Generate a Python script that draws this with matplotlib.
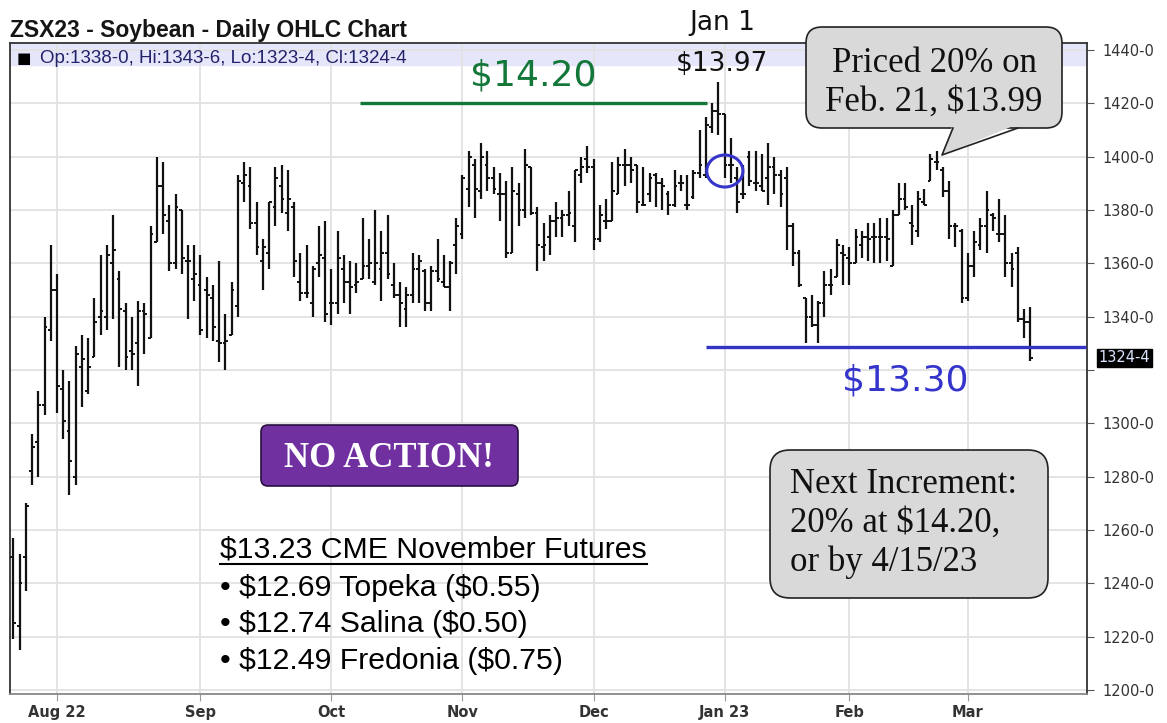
import numpy as np
import matplotlib.pyplot as plt
from matplotlib.patches import FancyBboxPatch, Polygon, Ellipse
from matplotlib import font_manager
import matplotlib.transforms as mtransforms

plt.rcParams['text.parse_math'] = False

# daily OHLC, ZSX23 soybeans (cents/bu)
opens = [1250, 1224, 1250, 1282, 1293, 1307, 1335, 1350, 1313, 1297,
         1280, 1321, 1312, 1325, 1340, 1340, 1360, 1354, 1342, 1327,
         1330, 1342, 1332, 1368, 1389, 1376, 1360, 1380, 1361, 1354,
         1352, 1350, 1347, 1331, 1330, 1333, 1344, 1390, 1389, 1375,
         1361, 1364, 1381, 1389, 1379, 1381, 1353, 1349, 1345, 1360,
         1362, 1345, 1345, 1358, 1353, 1352, 1354, 1359, 1353, 1358,
         1364, 1352, 1348, 1343, 1348, 1358, 1357, 1345, 1357, 1353,
         1351, 1367, 1371, 1388, 1397, 1387, 1397, 1392, 1386, 1386,
         1364, 1386, 1380, 1396, 1379, 1366, 1370, 1376, 1377, 1378,
         1374, 1393, 1399, 1396, 1369, 1376, 1376, 1386, 1397, 1397,
         1397, 1382, 1386, 1393, 1390, 1386, 1382, 1390, 1382, 1385,
         1394, 1393, 1411, 1417, 1416, 1397, 1392, 1386, 1400, 1390,
         1389, 1392, 1396, 1393, 1392, 1374, 1364, 1347, 1340, 1337,
         1345, 1352, 1355, 1364, 1362, 1360, 1367, 1370, 1370, 1370,
         1370, 1359, 1378, 1384, 1375, 1372, 1383, 1391, 1398, 1395,
         1387, 1374, 1372, 1347, 1359, 1367, 1374, 1378, 1371, 1371,
         1360, 1364, 1339, 1338]
highs = [1257, 1251, 1270, 1296, 1312, 1340, 1367, 1356, 1320, 1316,
         1329, 1333, 1332, 1347, 1363, 1367, 1378, 1357, 1345, 1340,
         1346, 1345, 1374, 1400, 1398, 1382, 1386, 1380, 1367, 1367,
         1363, 1355, 1352, 1361, 1341, 1353, 1393, 1398, 1396, 1383,
         1369, 1383, 1396, 1397, 1395, 1383, 1364, 1367, 1359, 1374,
         1376, 1358, 1372, 1363, 1361, 1360, 1377, 1369, 1380, 1372,
         1378, 1360, 1353, 1351, 1364, 1363, 1358, 1359, 1369, 1363,
         1361, 1377, 1393, 1402, 1399, 1405, 1402, 1396, 1394, 1391,
         1396, 1390, 1403, 1396, 1381, 1375, 1378, 1383, 1380, 1387,
         1395, 1400, 1404, 1399, 1382, 1384, 1398, 1400, 1403, 1400,
         1397, 1396, 1394, 1394, 1392, 1387, 1395, 1393, 1393, 1395,
         1410, 1415, 1420, 1428, 1416, 1407, 1396, 1397, 1402, 1402,
         1401, 1405, 1400, 1395, 1396, 1375, 1365, 1347, 1348, 1346,
         1357, 1358, 1369, 1367, 1366, 1373, 1372, 1375, 1375, 1377,
         1377, 1380, 1390, 1390, 1382, 1387, 1388, 1401, 1402, 1396,
         1391, 1375, 1373, 1364, 1372, 1377, 1387, 1379, 1384, 1378,
         1364, 1366, 1343, 1343.75]
lows = [1219, 1215, 1237, 1277, 1280, 1303, 1331, 1304, 1294, 1273,
        1277, 1306, 1311, 1325, 1333, 1335, 1339, 1321, 1320, 1320,
        1314, 1326, 1332, 1368, 1371, 1357, 1358, 1356, 1339, 1346,
        1333, 1332, 1331, 1323, 1320, 1333, 1340, 1383, 1373, 1363,
        1350, 1358, 1374, 1379, 1372, 1355, 1346, 1347, 1340, 1355,
        1338, 1337, 1341, 1345, 1341, 1349, 1354, 1354, 1352, 1346,
        1354, 1347, 1336, 1336, 1345, 1345, 1342, 1342, 1353, 1351,
        1342, 1356, 1369, 1381, 1377, 1384, 1387, 1386, 1376, 1362,
        1364, 1374, 1377, 1378, 1357, 1361, 1363, 1370, 1370, 1374,
        1368, 1390, 1394, 1365, 1368, 1373, 1376, 1386, 1389, 1390,
        1379, 1382, 1383, 1381, 1380, 1378, 1381, 1387, 1380, 1384,
        1392, 1392, 1409, 1408, 1392, 1390, 1379, 1384, 1389, 1387,
        1387, 1382, 1386, 1381, 1365, 1359, 1351, 1330, 1336, 1330,
        1340, 1348, 1355, 1352, 1352, 1360, 1362, 1361, 1360, 1360,
        1361, 1359, 1378, 1380, 1367, 1370, 1382, 1391, 1395, 1385,
        1369, 1366, 1345, 1346, 1355, 1365, 1364, 1372, 1368, 1355,
        1351, 1338, 1332, 1323.5]
closes = [1225, 1240, 1269, 1291, 1307, 1336, 1350, 1314, 1301, 1286,
          1326, 1324, 1321, 1338, 1342, 1363, 1365, 1343, 1325, 1326,
          1342, 1341, 1371, 1389, 1378, 1360, 1381, 1362, 1361, 1356,
          1335, 1348, 1336, 1330, 1331, 1350, 1391, 1393, 1375, 1366,
          1366, 1383, 1392, 1384, 1384, 1361, 1349, 1349, 1358, 1363,
          1341, 1345, 1362, 1353, 1351, 1353, 1359, 1360, 1360, 1364,
          1356, 1348, 1345, 1348, 1358, 1361, 1345, 1357, 1354, 1351,
          1360, 1374, 1392, 1400, 1388, 1400, 1392, 1388, 1386, 1364,
          1387, 1380, 1397, 1379, 1367, 1367, 1376, 1377, 1378, 1379,
          1395, 1396, 1396, 1369, 1378, 1376, 1387, 1397, 1397, 1395,
          1383, 1382, 1392, 1390, 1389, 1382, 1389, 1390, 1382, 1394,
          1397, 1412, 1417, 1416, 1397, 1397, 1383, 1386, 1391, 1390,
          1387, 1396, 1393, 1386, 1374, 1364, 1352, 1340, 1337, 1345,
          1352, 1352, 1367, 1363, 1360, 1370, 1370, 1369, 1370, 1370,
          1369, 1378, 1384, 1381, 1374, 1384, 1382, 1399, 1398, 1387,
          1374, 1374, 1347, 1359, 1368, 1374, 1380, 1377, 1371, 1360,
          1358, 1339, 1338, 1324.5]

month_labels = ['Aug 22', 'Sep', 'Oct', 'Nov', 'Dec', 'Jan 23', 'Feb', 'Mar']
month_starts = [7, 30, 51, 72, 93, 114, 134, 153]   # bar index of first trading day
price_ticks = list(range(1200, 1441, 20))
last_price = closes[-1]

target_line = 1420    # $14.20
floor_line = 1328.5   # $13.30

names = {f.name for f in font_manager.fontManager.ttflist}
narrow = 'Liberation Sans Narrow' if 'Liberation Sans Narrow' in names else 'DejaVu Sans'

W, H = 1167, 723
fig = plt.figure(figsize=(W / 100, H / 100), dpi=100)
fig.patch.set_facecolor('white')

ax = fig.add_axes([10 / W, 1 - 694 / H, 1077 / W, 651 / H])
x = np.arange(len(opens))
ax.vlines(x, lows, highs, color='#111111', lw=1.6, zorder=3)
ax.hlines(opens, x - 0.45, x, color='#111111', lw=1.4, zorder=3)
ax.hlines(closes, x, x + 0.45, color='#111111', lw=1.4, zorder=3)

ax.set_xlim(-0.53, 172.1)
ax.set_ylim(1198.5, 1442.6)

ax.axhspan(1434.4, 1443, color='#e6e6fa', zorder=0)
ax.set_axisbelow(True)
ax.grid(True, color='#e2e2e2', lw=1.3)

ax.yaxis.tick_right()
ax.set_yticks(price_ticks)
ax.set_yticklabels(['' if v == 1320 else f'{v}-0' for v in price_ticks],
                   fontsize=10.5, color='#333333')
ax.set_xticks(month_starts)
ax.set_xticklabels(month_labels, fontsize=10.5, fontweight='bold', color='#333333',
                   family=narrow)
ax.tick_params(axis='y', direction='out', length=5, color='#555555', pad=6)
ax.tick_params(axis='x', direction='out', length=5, color='#999999', pad=3)
for s in ax.spines.values():
    s.set_color('#333333')
    s.set_linewidth(1.3)
ax.spines['bottom'].set_color('#888888')

# last price flag on the axis
trans = mtransforms.blended_transform_factory(ax.transAxes, ax.transData)
ax.text(1.0105, last_price, '1324-4', transform=trans, va='center', ha='left',
        fontsize=10.5, color='#dde6ff', clip_on=False,
        bbox=dict(boxstyle='square,pad=0.12', fc='black', ec='black'))

# target lines and labels
ax.hlines(target_line, 55.6, 111.2, color='#13773a', lw=2.4, zorder=4)
ax.text(83.3, 1424, '$14.20', color='#13773a', fontsize=26, ha='center', va='bottom',
        zorder=5)
ax.hlines(floor_line, 111, 171.9, color='#3333c4', lw=2.4, zorder=4)
ax.text(143, 1309.7, '$13.30', color='#3535cc', fontsize=26, ha='center', va='bottom',
        zorder=5)
ax.add_patch(Ellipse((114.05, 1394.6), 5.8, 12, fill=False, ec='#3535cc', lw=2.2, zorder=5))

# overlay in pixel coordinates for text boxes
ov = fig.add_axes([0, 0, 1, 1], facecolor='none')
ov.set_xlim(0, W)
ov.set_ylim(H, 0)
ov.axis('off')

ov.text(10, 37, 'ZSX23 - Soybean - Daily OHLC Chart', fontsize=16.5, fontweight='bold',
        family='Liberation Sans', color='#151515', va='baseline')
ov.text(17, 63, '\u25a0', fontsize=11, color='black', va='baseline', family='DejaVu Sans')
ov.text(40, 63, 'Op:1338-0, Hi:1343-6, Lo:1323-4, Cl:1324-4', fontsize=13.5,
        family='Liberation Sans', color='#22226a', va='baseline')

ov.text(722, 30, 'Jan 1', fontsize=19, ha='center', va='baseline', color='#111111')
ov.text(722, 71, '$13.97', fontsize=19, ha='center', va='baseline', color='#111111')

gray = '#d9d9d9'
ov.add_patch(FancyBboxPatch((806, 27), 256, 101, boxstyle='round,pad=0,rounding_size=16',
                            fc=gray, ec='#222222', lw=1.2, zorder=2))
ov.add_patch(Polygon([(953, 124), (1018, 124), (942, 155)], closed=True, fc=gray, ec='none',
                     zorder=3))
ov.plot([953, 942, 1018], [128, 155, 128], color='#222222', lw=1.2, zorder=4)
ov.text(934, 72, 'Priced 20% on', fontsize=25, family='Liberation Serif', ha='center',
        va='baseline', color='#111111', zorder=5)
ov.text(934, 111, 'Feb. 21, $13.99', fontsize=25, family='Liberation Serif', ha='center',
        va='baseline', color='#111111', zorder=5)

ov.add_patch(FancyBboxPatch((261, 425), 257, 61, boxstyle='round,pad=0,rounding_size=7',
                            fc='#7030a0', ec='#2a1040', lw=1.2, zorder=2))
ov.text(389, 467, 'NO ACTION!', fontsize=25, fontweight='bold', family='Liberation Serif',
        ha='center', va='baseline', color='white', zorder=5)

ov.add_patch(FancyBboxPatch((770, 450), 278, 148, boxstyle='round,pad=0,rounding_size=20',
                            fc=gray, ec='#222222', lw=1.2, zorder=2))
for txt, yb in zip(['Next Increment:', '20% at $14.20,', 'or by 4/15/23'], [493, 532, 571]):
    ov.text(790, yb, txt, fontsize=25, family='Liberation Serif', va='baseline',
            color='#111111', zorder=5)

ov.text(220, 558, '$13.23 CME November Futures', fontsize=21.8, family='Liberation Sans',
        va='baseline', color='black')
ov.plot([220, 647], [563.5, 563.5], color='black', lw=1.5)
for txt, yb in zip(['\u2022 $12.69 Topeka ($0.55)', '\u2022 $12.74 Salina ($0.50)',
                    '\u2022 $12.49 Fredonia ($0.75)'], [596, 632, 669]):
    ov.text(220, yb, txt, fontsize=21.8, family='Liberation Sans', va='baseline', color='black')

fig.savefig('out.png', dpi=100)
